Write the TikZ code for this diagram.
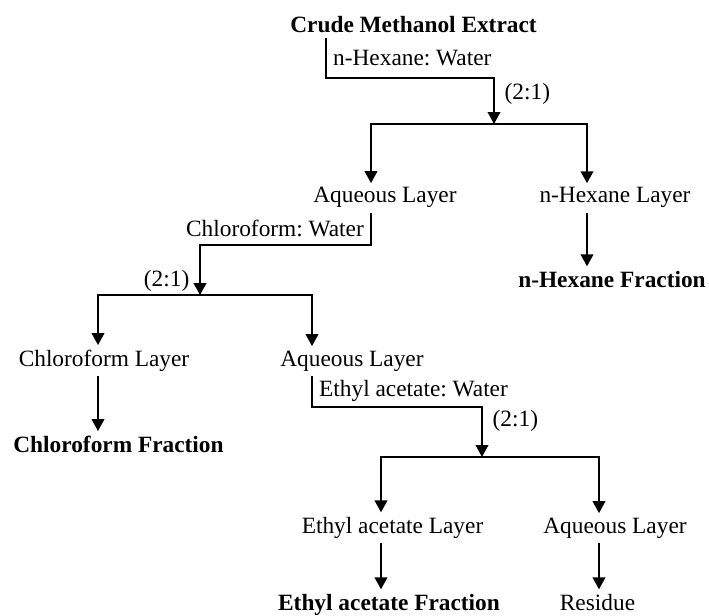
\documentclass[tikz,border=0pt]{standalone}
\usepackage{fontspec}
\setmainfont{Liberation Serif}
\usetikzlibrary{arrows.meta}
\frenchspacing

\begin{document}
\begin{tikzpicture}[x=0.025cm, y=-0.025cm]

    \tikzstyle{layer} = [text centered, inner sep=3pt, font=\fontsize{16.6}{20}\selectfont]
    \tikzstyle{fraction} = [layer, font=\fontsize{16.6}{20}\selectfont\bfseries]
    \tikzstyle{solvent} = [inner sep=4.5pt, font=\fontsize{16.6}{20}\selectfont]
    \tikzstyle{ratio} = [solvent, inner sep=7pt]
    \tikzstyle{line} = [line width=1.2pt]
    \tikzstyle{arrow} = [line, -{Triangle[length=8.5pt, width=9pt]}]

    \useasboundingbox (0,0) rectangle (709,616);

            % bends and split points of the connectors
            \coordinate (bend1) at (326,78);
            \coordinate (split1) at (494,124);
            \coordinate (bend2) at (371,245);
            \coordinate (split2) at (200,295);
            \coordinate (bend3) at (312,407);
            \coordinate (split3) at (482,457);
            \coordinate (colHexane) at (587,0);
            \coordinate (colChloroform) at (98,0);
            \coordinate (colEthyl) at (381,0);
            \coordinate (colResidue) at (599,0);

            % node[options](name){text}
            \node (Crude) [fraction, anchor=base] at (413.5,33) {Crude Methanol Extract};

            \node (Aqueous1) [layer, anchor=base] at (385,203) {Aqueous Layer};
            \node (HexaneLayer) [layer, anchor=base] at (615,203) {n-Hexane Layer};
            \node (HexaneFraction) [fraction, anchor=base] at (612,287) {n-Hexane Fraction};

            \node (ChloroformLayer) [layer, anchor=base] at (104,366) {Chloroform Layer};
            \node (Aqueous2) [layer, anchor=base] at (352,366) {Aqueous Layer};
            \node (ChloroformFraction) [fraction, anchor=base] at (118.5,452) {Chloroform Fraction};

            \node (EthylLayer) [layer, anchor=base] at (392.5,533) {Ethyl acetate Layer};
            \node (Aqueous3) [layer, anchor=base] at (615,533) {Aqueous Layer};
            \node (EthylFraction) [fraction, anchor=base] at (389,610) {Ethyl acetate Fraction};
            \node (Residue) [layer, anchor=base] at (597.5,610) {Residue};

            % ----- ----- ----- ----- ----- ----- ----- ----- ----- ----- ----- ----- ----- ----- -----

            \draw [arrow] (Crude.south -| bend1) -- node (Solvent1) [solvent, anchor=west] {n-Hexane: Water} (bend1) -| node (Ratio1) [ratio, anchor=west, pos=0.67] {(2:1)} (split1);
            \draw [arrow] (split1) -| (Aqueous1.north -| bend2);
            \draw [arrow] (split1) -| (HexaneLayer.north -| colHexane);
            \draw [arrow] (HexaneLayer.south -| colHexane) -- (HexaneFraction.north -| colHexane);

            \draw [arrow] (Aqueous1.south -| bend2) -- node (Solvent2) [solvent, anchor=east] {Chloroform: Water} (bend2) -| node (Ratio2) [ratio, anchor=east, pos=0.86] {(2:1)} (split2);
            \draw [arrow] (split2) -| (ChloroformLayer.north -| colChloroform);
            \draw [arrow] (split2) -| (Aqueous2.north -| bend3);
            \draw [arrow] (ChloroformLayer.south -| colChloroform) -- (ChloroformFraction.north -| colChloroform);

            \draw [arrow] (Aqueous2.south -| bend3) -- node (Solvent3) [solvent, anchor=west] {Ethyl acetate: Water} (bend3) -| node (Ratio3) [ratio, anchor=west, pos=0.64] {(2:1)} (split3);
            \draw [arrow] (split3) -| (EthylLayer.north -| colEthyl);
            \draw [arrow] (split3) -| (Aqueous3.north -| colResidue);
            \draw [arrow] (EthylLayer.south -| colEthyl) -- (EthylFraction.north -| colEthyl);
            \draw [arrow] (Aqueous3.south -| colResidue) -- (Residue.north -| colResidue);
\end{tikzpicture}
\end{document}
